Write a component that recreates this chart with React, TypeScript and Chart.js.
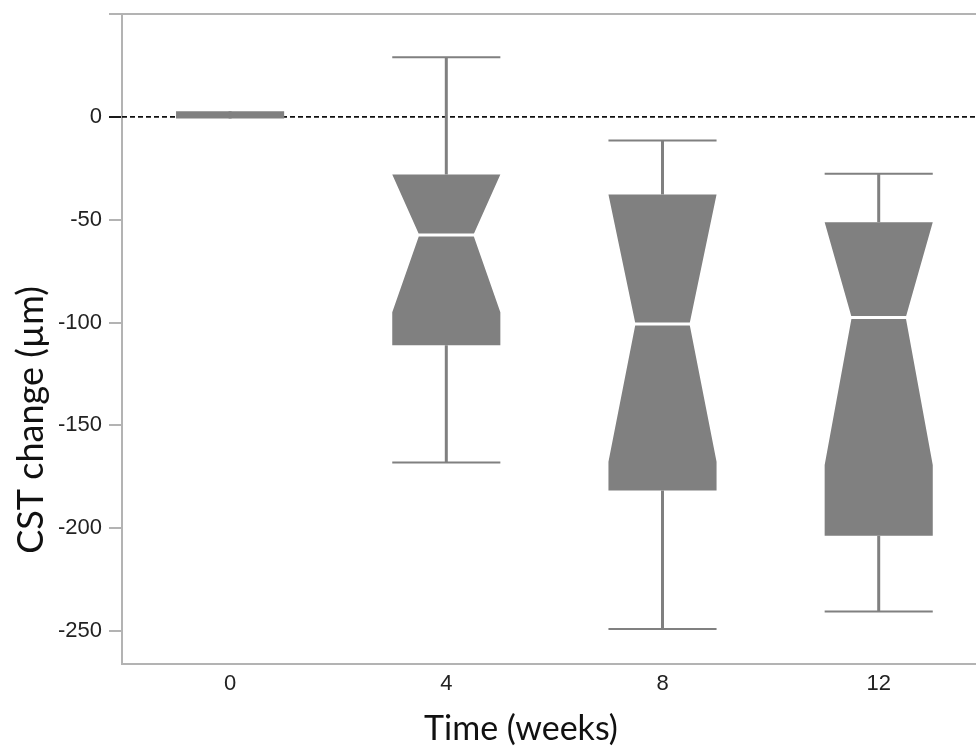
import React, { useEffect, useRef } from 'react';
import { Chart, registerables } from 'chart.js';

Chart.register(...registerables);

// ---- data ----
const categories = ['0', '4', '8', '12'];
const whiskerHigh = [0, 29, -11.5, -27.7];
const q3 = [2.7, -28, -37.7, -51.2];
const notchHigh: (number | null)[] = [null, -19.8, -33.7, -25.9];
const median = [0, -57.4, -100.7, -97.6];
const notchLow: (number | null)[] = [null, -95, -167.7, -169.3];
const q1 = [-0.8, -111, -181.7, -203.6];
const whiskerLow = [0, -168, -249, -240.5];
const yTickValues = [50, 0, -50, -100, -150, -200, -250];
const yTickLabels = ['', '0', '-50', '-100', '-150', '-200', '-250'];
const referenceValue = 0;
const xTitle = 'Time (weeks)';
const yTitle = 'CST change (µm)';

const BOX_GRAY = '#808080';
const AXIS_GRAY = '#b3b3b3';

const boxPlugin = {
  id: 'notchedBoxes',
  beforeDatasetsDraw(chart: any) {
    const { ctx, chartArea, scales } = chart;
    const x = scales.x;
    const y = scales.y;
    const py = (v: number) => y.getPixelForValue(v);
    ctx.save();
    // top frame line
    ctx.strokeStyle = AXIS_GRAY;
    ctx.lineWidth = 2;
    ctx.beginPath();
    ctx.moveTo(chartArea.left, chartArea.top);
    ctx.lineTo(chartArea.right, chartArea.top);
    ctx.stroke();
    // reference dashed line
    const y0 = py(referenceValue);
    ctx.strokeStyle = '#111111';
    ctx.lineWidth = 1.8;
    ctx.setLineDash([5, 3]);
    ctx.beginPath();
    ctx.moveTo(chartArea.left, y0);
    ctx.lineTo(chartArea.right, y0);
    ctx.stroke();
    ctx.setLineDash([]);

    categories.forEach((_, i) => {
      const c = x.getPixelForValue(i);
      const hw = x.getPixelForValue(i + 0.25) - c;
      const nw = hw * 0.5;
      const yq3 = py(q3[i]);
      const yq1 = py(q1[i]);
      const ym = py(median[i]);
      // whiskers
      ctx.strokeStyle = BOX_GRAY;
      ctx.lineWidth = 3;
      ctx.beginPath();
      ctx.moveTo(c, yq3);
      ctx.lineTo(c, py(whiskerHigh[i]));
      ctx.moveTo(c, yq1);
      ctx.lineTo(c, py(whiskerLow[i]));
      ctx.stroke();
      ctx.lineWidth = 2;
      ctx.beginPath();
      ctx.moveTo(c - hw, py(whiskerHigh[i]));
      ctx.lineTo(c + hw, py(whiskerHigh[i]));
      ctx.moveTo(c - hw, py(whiskerLow[i]));
      ctx.lineTo(c + hw, py(whiskerLow[i]));
      ctx.stroke();
      // box
      ctx.fillStyle = BOX_GRAY;
      ctx.beginPath();
      const nh = notchHigh[i];
      const nl = notchLow[i];
      if (nh === null || nl === null) {
        ctx.rect(c - hw, yq3, 2 * hw, yq1 - yq3);
        ctx.fill();
      } else {
        const ynh = py(Math.min(nh, q3[i]));
        const ynl = py(Math.max(nl, q1[i]));
        ctx.moveTo(c - hw, yq3);
        ctx.lineTo(c + hw, yq3);
        ctx.lineTo(c + hw, ynh);
        ctx.lineTo(c + nw, ym);
        ctx.lineTo(c + hw, ynl);
        ctx.lineTo(c + hw, yq1);
        ctx.lineTo(c - hw, yq1);
        ctx.lineTo(c - hw, ynl);
        ctx.lineTo(c - nw, ym);
        ctx.lineTo(c - hw, ynh);
        ctx.closePath();
        ctx.fill();
        // median
        ctx.strokeStyle = '#ffffff';
        ctx.lineWidth = 3;
        ctx.beginPath();
        ctx.moveTo(c - nw - 1, ym);
        ctx.lineTo(c + nw + 1, ym);
        ctx.stroke();
      }
    });
    ctx.restore();
  },
  afterDraw(chart: any) {
    const { ctx } = chart;
    ctx.save();
    ctx.fillStyle = '#111111';
    ctx.textAlign = 'center';
    ctx.textBaseline = 'alphabetic';
    ctx.font = '34px Lato';
    ctx.fillText(xTitle, 521, 740);
    ctx.translate(43, 420);
    ctx.rotate(-Math.PI / 2);
    ctx.font = '36px Lato';
    ctx.fillText(yTitle, 0, 0);
    ctx.restore();
  },
};

export default function App() {
  const canvasRef = useRef<HTMLCanvasElement | null>(null);

  useEffect(() => {
    if (!canvasRef.current) return;
    const chart = new Chart(canvasRef.current, {
      type: 'scatter',
      data: {
        datasets: [
          {
            data: median.map((m, i) => ({ x: i, y: m })),
            pointRadius: 0,
            showLine: false,
          },
        ],
      },
      options: {
        animation: false,
        responsive: true,
        maintainAspectRatio: false,
        layout: { padding: { top: 14, right: 0, left: 0, bottom: 0 } },
        plugins: { legend: { display: false }, tooltip: { enabled: false } },
        scales: {
          x: {
            type: 'linear',
            min: -0.5,
            max: 3.45,
            afterBuildTicks: (scale: any) => {
              scale.ticks = categories.map((_, i) => ({ value: i }));
            },
            afterFit: (scale: any) => {
              scale.height = 83;
              scale.paddingLeft = 0;
              scale.paddingRight = 0;
            },
            grid: { drawOnChartArea: false, drawTicks: false },
            border: { color: AXIS_GRAY, width: 2 },
            ticks: {
              padding: 7,
              color: '#222222',
              font: { family: 'Liberation Sans', size: 22 },
              callback: (v: any) => categories[v] ?? '',
            },
          },
          y: {
            type: 'linear',
            min: -266,
            max: 50,
            afterBuildTicks: (scale: any) => {
              scale.ticks = yTickValues.map((v) => ({ value: v }));
            },
            afterFit: (scale: any) => {
              scale.width = 122;
              scale.paddingTop = 0;
              scale.paddingBottom = 0;
            },
            grid: {
              drawOnChartArea: false,
              drawTicks: true,
              tickLength: 13,
              lineWidth: 2,
              color: (ctx: any) => (ctx.tick && ctx.tick.value === referenceValue ? '#1a1a1a' : AXIS_GRAY),
            },
            border: { color: AXIS_GRAY, width: 2 },
            ticks: {
              padding: 7,
              color: '#222222',
              font: { family: 'Liberation Sans', size: 22 },
              callback: (v: any) => {
                const idx = yTickValues.indexOf(v);
                return idx >= 0 ? yTickLabels[idx] : '';
              },
            },
          },
        },
      },
      plugins: [boxPlugin],
    });
    return () => chart.destroy();
  }, []);

  return (
    <div style={{ position: 'absolute', left: 0, top: 0, width: 976, height: 747 }}>
      <canvas ref={canvasRef} />
    </div>
  );
}
